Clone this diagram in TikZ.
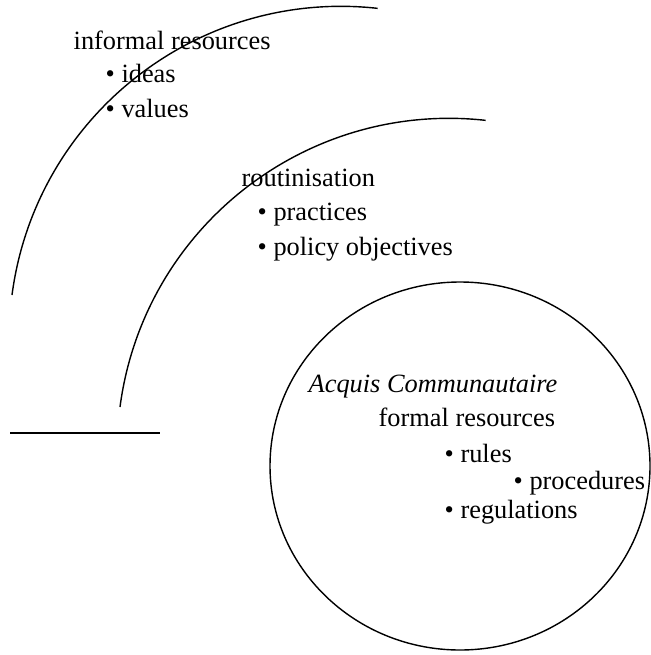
\documentclass[tikz,border=0pt]{standalone}
\usepackage{fontspec}
\setmainfont{Liberation Serif}

\begin{document}
\begin{tikzpicture}[x=0.02cm, y=-0.02cm, line width=0.8pt,
  every node/.style={anchor=base west, inner sep=0pt, font=\fontsize{15}{18}\selectfont}]
  \useasboundingbox (0,0) rectangle (650,655);
  % draw the two outer arcs and the base line
  \draw (12,295) arc[start angle=187.5, end angle=276.3, radius=332];
  \draw (120,407) arc[start angle=187.5, end angle=276.3, radius=332];
  \draw (10,433) -- (160,433);
  % draw the inner ring
  \draw (460,466) ellipse [x radius=190, y radius=184];
  % outer level
  \node (informal) at (73,50) {informal resources};
  \node (ideas) at (105,83) {\textbullet\ ideas};
  \node (values) at (105,118) {\textbullet\ values};
  % middle level
  \node (routine) at (241,187) {routinisation};
  \node (practices) at (257,220) {\textbullet\ practices};
  \node (objectives) at (257,255) {\textbullet\ policy objectives};
  % inner level
  \node (acquis) at (308,392) {\textit{Acquis Communautaire}};
  \node (formal) at (378,426) {formal resources};
  \node (rules) at (444,462) {\textbullet\ rules};
  \node (procedures) at (513,489) {\textbullet\ procedures};
  \node (regulations) at (444,518) {\textbullet\ regulations};
\end{tikzpicture}
\end{document}
